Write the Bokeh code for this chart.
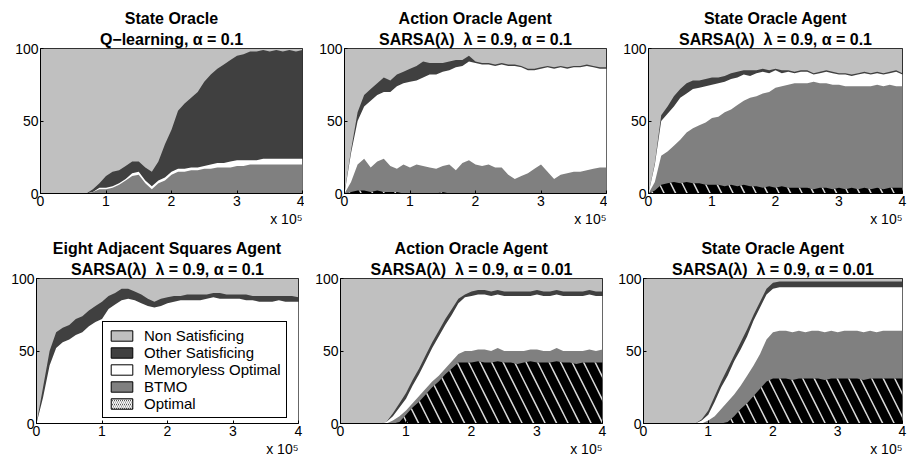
import numpy as np
from bokeh.plotting import figure
from bokeh.models import (Range1d, FixedTicker, Title, Legend, LegendItem, ColumnDataSource)
from bokeh.layouts import column, row
from bokeh.embed import file_html
from bokeh.resources import INLINE

# ---------------- data (percent of runs per category, every 10^4 steps) -------------
steps = list(range(0, 400001, 10000))

categories = ["Non Satisficing", "Other Satisficing", "Memoryless Optimal", "BTMO", "Optimal"]
cat_colors = ["#c0c0c0", "#404040", "#ffffff", "#808080", "#000000"]

x_ticks = [0, 100000, 200000, 300000, 400000]
x_tick_labels = ["0", "1", "2", "3", "4"]
x_multiplier = "x 10\u2075"
y_ticks = [0, 50, 100]

SP = "\u00a0 "  # double space kept in SVG text
titles = [
    ("State Oracle", "Q\u2212learning, \u03b1 = 0.1"),
    ("Action Oracle Agent", "SARSA(\u03bb)" + SP + "\u03bb = 0.9, \u03b1 = 0.1"),
    ("State Oracle Agent", "SARSA(\u03bb)" + SP + "\u03bb = 0.9, \u03b1 = 0.1"),
    ("Eight Adjacent Squares Agent", "SARSA(\u03bb)" + SP + "\u03bb = 0.9, \u03b1 = 0.1"),
    ("Action Oracle Agent", "SARSA(\u03bb)" + SP + "\u03bb = 0.9, \u03b1 = 0.01"),
    ("State Oracle Agent", "SARSA(\u03bb)" + SP + "\u03bb = 0.9, \u03b1 = 0.01"),
]

# Panel 1: State Oracle, Q-learning
p1_opt = [0] * 41
p1_btmo = [0, 0, 0, 0, 0, 0, 0, 0, 1, 3, 3, 4, 6, 9, 12, 13, 7, 3, 7, 9, 13, 15, 15, 16, 16, 17,
           17, 18, 18, 18, 19, 19, 20, 20, 20, 20, 20, 20, 20, 20, 20]
p1_mem = [0, 0, 0, 0, 0, 0, 0, 0, 0, 1, 1, 1, 1, 1, 2, 2, 2, 2, 2, 2, 2, 2, 2, 2, 2, 2,
          3, 3, 3, 4, 4, 4, 3, 3, 4, 4, 4, 4, 4, 4, 4]
p1_oth = [0, 0, 0, 0, 0, 0, 0, 0, 2, 3, 8, 10, 9, 9, 8, 7, 9, 10, 13, 23, 29, 40, 45, 48, 52, 58,
          62, 65, 68, 70, 72, 73, 75, 75, 75, 74, 75, 74, 75, 74, 75]

# Panel 2: Action Oracle Agent, alpha = 0.1
p2_opt = [0, 1, 2, 2, 1, 2, 1, 1, 1, 0, 0, 0, 0, 0, 0, 1, 0, 0, 0, 0, 0, 0, 0, 0, 0, 0,
          0, 0, 0, 0, 0, 0, 0, 0, 0, 0, 0, 0, 0, 0, 0]
p2_btmo = [0, 7, 18, 22, 17, 20, 23, 18, 16, 20, 18, 20, 19, 18, 17, 18, 20, 16, 21, 23, 20, 19,
           20, 18, 18, 13, 10, 12, 14, 17, 20, 15, 10, 13, 14, 15, 15, 16, 17, 18, 18]
p2_mem = [0, 20, 30, 36, 46, 46, 46, 51, 57, 56, 59, 58, 61, 64, 65, 65, 65, 71, 67, 68, 70, 70,
          69, 70, 71, 75, 78, 75, 71, 68, 66, 72, 76, 74, 72, 72, 72, 72, 70, 68, 68]
p2_oth = [0, 2, 6, 8, 8, 8, 10, 8, 8, 8, 9, 10, 11, 8, 8, 6, 6, 5, 4, 4, 1, 1, 1, 1, 1, 1,
          1, 1, 1, 1, 1, 1, 1, 1, 1, 1, 1, 1, 1, 1, 1]

# Panel 3: State Oracle Agent, alpha = 0.1
p3_opt = [0, 2, 6, 7, 8, 7, 8, 7, 7, 6, 6, 6, 5, 6, 5, 6, 5, 5, 4, 5, 4, 5, 4, 4, 4, 4,
          3, 4, 4, 3, 4, 3, 4, 3, 4, 3, 4, 3, 4, 4, 4]
p3_btmo = [0, 6, 20, 22, 25, 30, 34, 38, 40, 43, 46, 47, 51, 52, 56, 58, 61, 62, 65, 65, 69, 69,
           71, 72, 72, 72, 74, 72, 72, 72, 71, 71, 70, 71, 70, 71, 71, 71, 71, 70, 70]
p3_mem = [0, 12, 24, 26, 27, 29, 27, 27, 26, 25, 23, 23, 21, 21, 19, 18, 15, 16, 15, 13, 12, 9,
          9, 7, 8, 8, 5, 7, 8, 8, 7, 8, 7, 8, 9, 8, 8, 8, 8, 10, 8]
p3_oth = [0, 1, 4, 5, 7, 6, 7, 6, 5, 5, 5, 4, 4, 4, 4, 3, 4, 2, 2, 2, 1, 2, 1, 1, 1, 1,
          1, 1, 1, 1, 1, 1, 1, 1, 1, 1, 1, 1, 1, 1, 1]

# Panel 4: Eight Adjacent Squares Agent, alpha = 0.1
p4_opt = [0] * 41
p4_btmo = [0] * 41
p4_mem = [0, 18, 40, 52, 56, 58, 61, 63, 67, 70, 72, 79, 82, 85, 86, 85, 83, 81, 80, 81, 83, 84,
          85, 85, 85, 85, 86, 87, 86, 86, 86, 86, 85, 85, 84, 84, 84, 85, 84, 84, 84]
p4_oth = [0, 7, 10, 11, 10, 10, 11, 11, 11, 11, 12, 9, 8, 8, 7, 6, 6, 5, 4, 5, 4, 4,
          3, 4, 4, 4, 3, 3, 4, 3, 3, 3, 4, 3, 4, 4, 4, 3, 4, 4, 3]

# Panel 5: Action Oracle Agent, alpha = 0.01
p5_opt = [0, 0, 0, 0, 0, 0, 0, 0, 0, 1, 6, 11, 15, 20, 25, 29, 34, 38, 42, 42, 42, 43,
          42, 42, 43, 42, 42, 41, 42, 43, 42, 42, 42, 43, 42, 42, 41, 42, 42, 42, 42]
p5_btmo = [0, 0, 0, 0, 0, 0, 0, 0, 2, 4, 3, 3, 4, 4, 4, 4, 4, 5, 6, 8, 8, 8,
           9, 8, 9, 8, 8, 9, 8, 8, 9, 8, 8, 9, 8, 8, 9, 8, 9, 8, 9]
p5_mem = [0, 0, 0, 0, 0, 0, 0, 1, 3, 6, 8, 12, 15, 19, 23, 27, 30, 32, 35, 37, 38, 38,
          38, 38, 37, 38, 38, 38, 38, 37, 38, 38, 38, 37, 38, 38, 38, 38, 38, 38, 37]
p5_oth = [0, 0, 0, 0, 0, 0, 0, 0, 2, 3, 4, 4, 4, 4, 4, 4, 4, 4, 3, 2, 3, 3,
          3, 3, 3, 3, 3, 3, 3, 3, 3, 3, 3, 3, 3, 3, 3, 3, 3, 3, 3]

# Panel 6: State Oracle Agent, alpha = 0.01
p6_opt = [0, 0, 0, 0, 0, 0, 0, 0, 0, 0, 0, 0, 0, 1, 5, 10, 14, 19, 24, 29, 31, 31,
          31, 30, 31, 31, 31, 31, 30, 31, 31, 31, 31, 31, 30, 31, 31, 31, 31, 31, 31]
p6_btmo = [0, 0, 0, 0, 0, 0, 0, 0, 0, 0, 2, 5, 10, 14, 15, 16, 19, 21, 24, 29, 32, 33,
           33, 33, 33, 32, 33, 33, 33, 33, 32, 33, 33, 33, 33, 33, 32, 33, 33, 33, 33]
p6_mem = [0, 0, 0, 0, 0, 0, 0, 0, 0, 2, 4, 10, 15, 18, 23, 25, 27, 31, 32, 31, 30, 30,
          30, 31, 30, 31, 30, 30, 31, 30, 31, 30, 30, 30, 31, 30, 31, 30, 30, 30, 30]
p6_oth = [0, 0, 0, 0, 0, 0, 0, 0, 0, 1, 3, 4, 4, 5, 4, 5, 5, 4, 4, 4, 4, 4,
          4, 4, 4, 4, 4, 4, 4, 4, 4, 4, 4, 4, 4, 4, 4, 4, 4, 4, 4]

FONT = "Liberation Sans"
HATCH = dict(hatch_pattern="left_diagonal_line", hatch_color="#d8d8d8",
             hatch_scale=23, hatch_weight=1.5)


def make_panel(title_pair, opt, btmo, mem, oth, width, height, left, right, top, bottom,
               legend=False):
    p = figure(width=width, height=height, x_range=Range1d(0, 400000), y_range=Range1d(0, 100),
               output_backend="svg", toolbar_location=None, title=None,
               min_border_left=left, min_border_right=right,
               min_border_top=top, min_border_bottom=bottom)
    x = np.array(steps, dtype=float)
    c1 = np.array(opt, dtype=float)
    c2 = c1 + np.array(btmo, dtype=float)
    c3 = c2 + np.array(mem, dtype=float)
    c4 = c3 + np.array(oth, dtype=float)
    zero = np.zeros_like(x)
    top_line = np.full_like(x, 100.0)  # Non Satisficing fills the remainder up to 100 %
    p.varea(x=x, y1=zero, y2=top_line, fill_color=cat_colors[0])
    p.varea(x=x, y1=zero, y2=c4, fill_color=cat_colors[1])
    p.varea(x=x, y1=zero, y2=c3, fill_color=cat_colors[2])
    p.varea(x=x, y1=zero, y2=c2, fill_color=cat_colors[3])
    p.varea(x=x, y1=zero, y2=c1, fill_color=cat_colors[4], **HATCH)

    p.xaxis.ticker = FixedTicker(ticks=x_ticks)
    p.xaxis.major_label_overrides = {t: s for t, s in zip(x_ticks, x_tick_labels)}
    p.yaxis.ticker = FixedTicker(ticks=y_ticks)
    for ax in (p.xaxis[0], p.yaxis[0]):
        ax.major_label_text_font = FONT
        ax.major_label_text_font_size = "14px"
        ax.major_label_text_color = "black"
        ax.axis_line_color = "black"
        ax.major_tick_line_color = "black"
        ax.major_tick_in = 3
        ax.major_tick_out = 0
        ax.minor_tick_line_color = None
        ax.major_label_standoff = 2
    p.grid.visible = False
    p.outline_line_color = "black"
    p.outline_line_alpha = 1.0
    p.background_fill_color = "white"
    p.border_fill_color = "white"

    line1, line2 = title_pair
    p.add_layout(Title(text=line2, align="center", text_font=FONT, text_font_size="16px",
                       text_font_style="bold", text_color="black", standoff=2), "above")
    p.add_layout(Title(text=line1, align="center", text_font=FONT, text_font_size="16px",
                       text_font_style="bold", text_color="black", standoff=1), "above")

    # "x 10^5" multiplier under the lower-right corner of the axes
    p.add_layout(Title(text=x_multiplier, align="right", text_font=FONT,
                       text_font_size="14px", text_font_style="normal", text_color="black",
                       standoff=0), "below")

    if legend:
        src = ColumnDataSource(data=dict(l=[np.nan], r=[np.nan], t=[np.nan], b=[np.nan]))
        items = []
        for name, col in zip(categories, cat_colors):
            kw = dict(left="l", right="r", top="t", bottom="b", source=src,
                      fill_color=col, line_color="black", line_width=1)
            if name == "Optimal":
                kw.update(hatch_pattern="left_diagonal_line", hatch_color="white",
                          hatch_scale=4, hatch_weight=1.5)
            r = p.quad(**kw)
            items.append(LegendItem(label=name, renderers=[r]))
        leg = Legend(items=items, location=(66, 5), label_text_font=FONT,
                     label_text_font_size="15px", label_text_color="black",
                     glyph_width=27, glyph_height=13, label_height=13, label_standoff=9,
                     padding=5, spacing=0, margin=0, border_line_color="black",
                     border_line_width=1, border_line_alpha=1.0,
                     background_fill_color="white", background_fill_alpha=1.0)
        p.add_layout(leg)
    return p


f1 = make_panel(titles[0], p1_opt, p1_btmo, p1_mem, p1_oth, 304, 230, 40, 2, 48, 37)
f2 = make_panel(titles[1], p2_opt, p2_btmo, p2_mem, p2_oth, 303, 230, 40, 1, 48, 37)
f3 = make_panel(titles[2], p3_opt, p3_btmo, p3_mem, p3_oth, 300, 230, 41, 5, 48, 37)
f4 = make_panel(titles[3], p4_opt, p4_btmo, p4_mem, p4_oth, 304, 232, 36, 6, 48, 39, legend=True)
f5 = make_panel(titles[4], p5_opt, p5_btmo, p5_mem, p5_oth, 303, 232, 36, 5, 48, 39)
f6 = make_panel(titles[5], p6_opt, p6_btmo, p6_mem, p6_oth, 300, 232, 36, 5, 48, 39)

page = column(row(f1, f2, f3), row(f4, f5, f6))

with open("out.html", "w") as fh:
    fh.write(file_html(page, INLINE))
